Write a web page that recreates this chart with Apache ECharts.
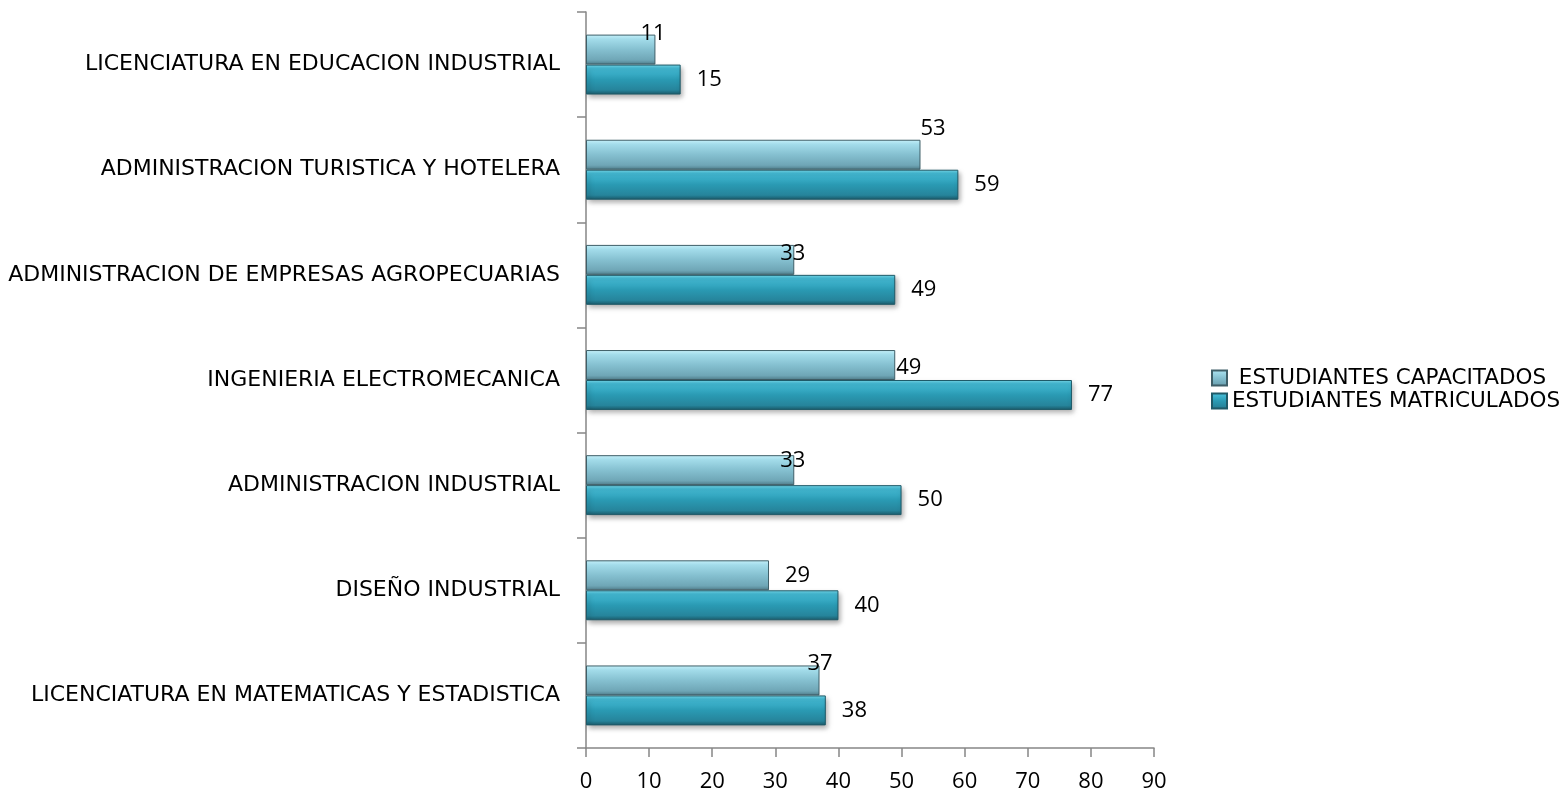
<!DOCTYPE html>
<html><head><meta charset="utf-8">
<script src="https://cdn.jsdelivr.net/npm/echarts@6/dist/echarts.min.js"></script>
<style>html,body{margin:0;padding:0;background:#fff}#c{width:1567px;height:795px}</style>
</head><body><div id="c"></div>
<script>
const categories = [
  'LICENCIATURA EN MATEMATICAS Y ESTADISTICA',
  'DISEÑO INDUSTRIAL',
  'ADMINISTRACION INDUSTRIAL',
  'INGENIERIA ELECTROMECANICA',
  'ADMINISTRACION DE EMPRESAS AGROPECUARIAS',
  'ADMINISTRACION TURISTICA Y HOTELERA',
  'LICENCIATURA EN EDUCACION INDUSTRIAL'
];
const matriculados = [38, 40, 50, 77, 49, 59, 15];
const capacitados = [37, 29, 33, 49, 33, 53, 11];
const seriesNames = ['ESTUDIANTES MATRICULADOS', ' ESTUDIANTES CAPACITADOS'];
const xTicks = { min: 0, max: 90, interval: 10 };
// label placement tweaks (style only) for the capacitados series
const capLabelOffsets = [[-12,-17],[16,0],[-14,-9],[1,3],[-14,-6],[0,-26],[-15,-16]];

const FONT = 'DejaVu Sans';
const NUMFONT = 'Open Sans';
const chart = echarts.init(document.getElementById('c'));
const gradMat = new echarts.graphic.LinearGradient(0,0,0,1,[
  {offset:0,color:'#7adcee'},{offset:0.12,color:'#45bcd6'},{offset:0.5,color:'#2a9ab3'},
  {offset:0.85,color:'#26849b'},{offset:1,color:'#1b5a6a'}]);
const gradCap = new echarts.graphic.LinearGradient(0,0,0,1,[
  {offset:0,color:'#c6f1fa'},{offset:0.15,color:'#a3dcea'},{offset:0.5,color:'#85c0d0'},
  {offset:0.85,color:'#6fa6b6'},{offset:1,color:'#4f7c89'}]);
chart.setOption({
  animation:false,
  textStyle:{fontFamily:FONT},
  grid:{left:586,right:413,top:12,bottom:47},
  legend:{
    orient:'vertical', left:1206, top:362, itemGap:1, itemWidth:15, itemHeight:15,
    data:[seriesNames[1], seriesNames[0]],
    textStyle:{fontFamily:FONT,fontSize:21.5,color:'#000'},
    icon:'rect'
  },
  xAxis:{
    type:'value', min:xTicks.min, max:xTicks.max, interval:xTicks.interval,
    axisLine:{show:true,lineStyle:{color:'#868686',width:1.5}},
    axisTick:{show:true,length:9,lineStyle:{color:'#868686',width:1.5}},
    splitLine:{show:false},
    axisLabel:{fontFamily:NUMFONT,fontSize:22,color:'#000',margin:23}
  },
  yAxis:{
    type:'category', data:categories,
    axisLine:{lineStyle:{color:'#868686',width:1.5}},
    axisTick:{show:true,length:9,lineStyle:{color:'#868686',width:1.5}},
    axisLabel:{fontFamily:FONT,fontSize:22,color:'#000',margin:26}
  },
  series:[
    {
      name:seriesNames[1], type:'bar',
      data:capacitados.map((v,i)=>({value:v,label:{offset:capLabelOffsets[i]}})),
      barGap:'0%', barCategoryGap:'43%',
      itemStyle:{color:gradCap,borderColor:'#3f5f68',borderWidth:1},
      label:{show:true,position:'right',distance:0,fontFamily:NUMFONT,fontSize:22,color:'#000'}
    },
    {
      name:seriesNames[0], type:'bar', data:matriculados,
      barGap:'0%', barCategoryGap:'43%',
      itemStyle:{color:gradMat,borderColor:'#1f5a68',borderWidth:1,
        shadowColor:'rgba(0,0,0,0.35)',shadowBlur:5,shadowOffsetY:3,shadowOffsetX:2},
      label:{show:true,position:'right',distance:16,fontFamily:NUMFONT,fontSize:22,color:'#000'}
    }
  ]
});
</script></body></html>
